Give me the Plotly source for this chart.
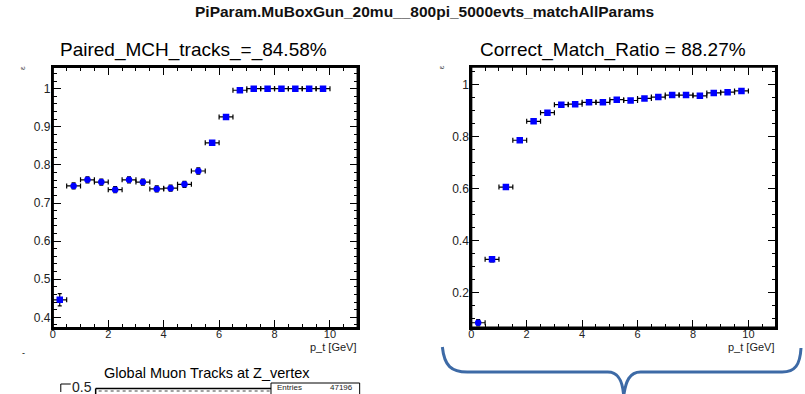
import plotly.graph_objects as go

# ---------------- data ----------------
pt_centers = [0.25, 0.75, 1.25, 1.75, 2.25, 2.75, 3.25, 3.75, 4.25, 4.75,
              5.25, 5.75, 6.25, 6.75, 7.25, 7.75, 8.25, 8.75, 9.25, 9.75]
pt_halfwidth = [0.25] * 20

paired_eff = [0.446, 0.745, 0.761, 0.755, 0.735, 0.761, 0.755, 0.737, 0.739, 0.749,
              0.784, 0.858, 0.926, 0.996, 1.0, 1.0, 1.0, 1.0, 1.0, 1.0]
paired_err = [0.016, 0.008, 0.008, 0.008, 0.008, 0.008, 0.008, 0.008, 0.008, 0.008,
              0.008, 0.006, 0.005, 0.002, 0.0, 0.0, 0.0, 0.0, 0.0, 0.0]

match_eff = [0.083, 0.327, 0.605, 0.785, 0.858, 0.891, 0.922, 0.924, 0.931, 0.931,
             0.941, 0.938, 0.946, 0.951, 0.959, 0.959, 0.956, 0.967, 0.970, 0.975]
match_err = [0.012, 0.010, 0.008, 0.006, 0.005, 0.005, 0.004, 0.004, 0.004, 0.004,
             0.004, 0.004, 0.004, 0.004, 0.003, 0.003, 0.003, 0.003, 0.003, 0.003]

suptitle = "PiParam.MuBoxGun_20mu__800pi_5000evts_matchAllParams"
left_title = "Paired_MCH_tracks_=_84.58%"
right_title = "Correct_Match_Ratio = 88.27%"
x_label = "p_t [GeV]"
y_label = "ε"
third_title = "Global Muon Tracks at Z_vertex"
stats_label = "Entries"
stats_value = "47196"

# ---------------- style ----------------
W, H = 805, 394
FONT = "Liberation Sans, Arial, Helvetica, sans-serif"
left_symbols = ["square"] + ["circle"] * 10 + ["square"] * 9
right_symbols = ["circle"] + ["square"] * 19


def px(x):
    return x / W


def py(y):
    return 1 - y / H


def eff_trace(x, y, err, symbols, xa, ya):
    return go.Scatter(
        x=x, y=y, mode="markers", xaxis=xa, yaxis=ya, showlegend=False,
        marker=dict(color="#0000ff", size=6.5, symbol=symbols, line=dict(width=0)),
        error_x=dict(type="data", array=pt_halfwidth, color="black", thickness=1.2, width=2.5),
        error_y=dict(type="data", array=err, color="black", thickness=1.2, width=2),
    )


fig = go.Figure()
fig.add_trace(eff_trace(pt_centers, paired_eff, paired_err, left_symbols, "x", "y"))
fig.add_trace(eff_trace(pt_centers, match_eff, match_err, right_symbols, "x2", "y2"))

axis_common = dict(
    showline=True, linewidth=2, linecolor="black", mirror="allticks",
    ticks="inside", ticklen=8, tickwidth=1, tickcolor="black",
    showgrid=False, zeroline=False,
)
xfont = dict(family=FONT, size=11, color="#222")
yfont = dict(family=FONT, size=12, color="#222")

fig.update_layout(
    width=W, height=H,
    margin=dict(l=0, r=0, t=0, b=0),
    paper_bgcolor="white", plot_bgcolor="white",
    font=dict(family=FONT),
    xaxis=dict(domain=[px(50), px(356)], range=[0, 11], anchor="y", tick0=0, dtick=2,
               minor=dict(dtick=0.5, ticks="inside", ticklen=4, tickcolor="black"),
               ticklabelstandoff=-5, tickfont=xfont, **axis_common),
    yaxis=dict(domain=[py(328), py(67)], range=[0.372, 1.057], anchor="x", tick0=0, dtick=0.1,
               minor=dict(dtick=0.02, ticks="inside", ticklen=4, tickcolor="black"),
               ticklabelstandoff=-2, tickfont=yfont, **axis_common),
    xaxis2=dict(domain=[px(470), px(776)], range=[0, 11], anchor="y2", tick0=0, dtick=2,
                minor=dict(dtick=0.5, ticks="inside", ticklen=4, tickcolor="black"),
                ticklabelstandoff=-5, tickfont=xfont, **axis_common),
    yaxis2=dict(domain=[py(327.7), py(66.7)], range=[0.064, 1.068], anchor="x2", tick0=0, dtick=0.2,
                minor=dict(dtick=0.05, ticks="inside", ticklen=4, tickcolor="black"),
                ticklabelstandoff=-2, tickfont=yfont, **axis_common),
)

ann = []


def text(x, y, s, size, xanchor="center", bold=False, angle=0, color="black"):
    ann.append(dict(
        x=px(x), y=py(y), xref="paper", yref="paper", text=(f"<b>{s}</b>" if bold else s),
        showarrow=False, xanchor=xanchor, yanchor="middle", textangle=angle,
        font=dict(family=FONT, size=size, color=color),
    ))


text(423, 11, suptitle, 15.5, bold=True, color="#111")
text(191.5, 50, left_title, 19)
text(612, 50, right_title, 19)
text(20, 68, y_label, 8, angle=-90, color="#444")
text(440, 67, y_label, 8, angle=-90, color="#444")
text(356, 346.5, x_label, 11, xanchor="right", color="#222")
text(776, 346.5, x_label, 11, xanchor="right", color="#222")
text(21, 353, "-", 9)
text(204.5, 373, third_title, 14.5)
text(91, 387, "0.5", 14, xanchor="right", color="#222")
text(273, 387.5, stats_label, 8, xanchor="left", color="#222")
text(353, 387.5, stats_value, 8, xanchor="right", color="#222")
fig.update_layout(annotations=ann)

shapes = []
# solid black frames around both panels
for xr, yr in (("x domain", "y domain"), ("x2 domain", "y2 domain")):
    shapes.append(dict(type="rect", xref=xr, yref=yr, x0=0, y0=0, x1=1, y1=1,
                       line=dict(color="black", width=2.2), layer="above"))
# partial third panel frame
shapes.append(dict(type="line", xref="paper", yref="paper", x0=px(93), y0=py(388.5), x1=px(269), y1=py(388.5),
                   line=dict(color="black", width=1.5)))
shapes.append(dict(type="line", xref="paper", yref="paper", x0=px(96), y0=py(391), x1=px(268), y1=py(391),
                   line=dict(color="#444", width=1, dash="dot")))
shapes.append(dict(type="line", xref="paper", yref="paper", x0=px(93), y0=py(388.5), x1=px(93), y1=py(396),
                   line=dict(color="black", width=1.5)))
shapes.append(dict(type="line", xref="paper", yref="paper", x0=px(58), y0=py(384), x1=px(68), y1=py(384),
                   line=dict(color="black", width=1)))
shapes.append(dict(type="line", xref="paper", yref="paper", x0=px(58), y0=py(384), x1=px(58), y1=py(392),
                   line=dict(color="black", width=1)))
shapes.append(dict(type="rect", xref="paper", yref="paper", x0=px(269), y0=py(383), x1=px(358), y1=py(400),
                   line=dict(color="black", width=1), fillcolor="white"))


def P(x, y):
    return f"{px(x):.5f},{py(y):.5f}"


brace = (f"M {P(441, 347)} C {P(443, 366)} {P(450, 372)} {P(466, 372)} "
         f"L {P(607, 372)} C {P(618, 372)} {P(622, 381)} {P(623, 396)} "
         f"M {P(623, 396)} C {P(625, 381)} {P(629, 372)} {P(640, 372)} "
         f"L {P(782, 372)} C {P(795, 372)} {P(800, 365)} {P(801, 348)}")
shapes.append(dict(type="path", xref="paper", yref="paper", path=brace,
                   line=dict(color="#3d6aa6", width=3)))
fig.update_layout(shapes=shapes)

fig.write_html("out.html")
